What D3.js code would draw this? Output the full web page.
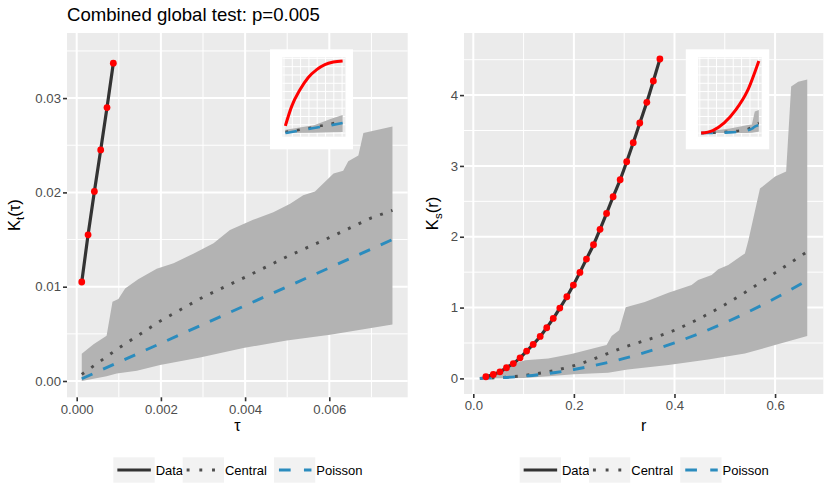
<!DOCTYPE html>
<html>
<head>
<meta charset="utf-8">
<script src="https://cdn.jsdelivr.net/npm/d3@7"></script>
<style>
  body { margin: 0; background: #fff; }
  text { font-family: "Liberation Sans", Arial, Helvetica, sans-serif; }
</style>
</head>
<body>
<svg id="chart" width="830" height="499"></svg>
<script>
// ---- left panel: K_t(tau) ----
const tauObs = [0.00012, 0.00027, 0.00042, 0.00057, 0.00072, 0.00087];
const ktObs = [0.0105, 0.0155, 0.0201, 0.0245, 0.0290, 0.0337];
const tauGrid = [0.00012, 0.001, 0.002, 0.003, 0.004, 0.005, 0.006, 0.007, 0.0075];
const ktCentral = [0.0007, 0.0035, 0.0064, 0.0089, 0.0110, 0.0132, 0.0152, 0.0173, 0.0181];
const ktPoisson = [0.00024, 0.002, 0.004, 0.006, 0.008, 0.010, 0.012, 0.014, 0.015];
const tauEnvHi = [0.00012, 0.0004, 0.00071, 0.00085, 0.00099, 0.00115, 0.00146, 0.0019, 0.0023, 0.00277, 0.00325, 0.00364, 0.00419, 0.00467, 0.00507, 0.00538, 0.00566, 0.0061, 0.00633, 0.00645, 0.00669, 0.00681, 0.0075];
const ktEnvHi = [0.0029, 0.0039, 0.0048, 0.0084, 0.0087, 0.0098, 0.0108, 0.0119, 0.0125, 0.0135, 0.0146, 0.0160, 0.0171, 0.0179, 0.0188, 0.0197, 0.0201, 0.0220, 0.0223, 0.0233, 0.0239, 0.0263, 0.0270];
const tauEnvLo = [0.00012, 0.00071, 0.00095, 0.00143, 0.00198, 0.00293, 0.00396, 0.00499, 0.00602, 0.0075];
const ktEnvLo = [0.0000, 0.0005, 0.0008, 0.0011, 0.0017, 0.0025, 0.0035, 0.0043, 0.0049, 0.0060];
const tauTicks = [0, 0.002, 0.004, 0.006];
const tauTickLabels = ["0.000", "0.002", "0.004", "0.006"];
const ktTicks = [0, 0.01, 0.02, 0.03];
const ktTickLabels = ["0.00", "0.01", "0.02", "0.03"];

// ---- right panel: K_s(r) ----
const rObs = [0.025, 0.0398, 0.053, 0.066, 0.0795, 0.093, 0.106, 0.119, 0.133, 0.146, 0.159, 0.172, 0.186, 0.199, 0.212, 0.225, 0.239, 0.252, 0.265, 0.278, 0.292, 0.305, 0.318, 0.331, 0.345, 0.358, 0.371];
const ksObs = [0.023, 0.056, 0.093, 0.15, 0.21, 0.29, 0.386, 0.48, 0.593, 0.715, 0.847, 0.993, 1.153, 1.318, 1.497, 1.685, 1.887, 2.105, 2.33, 2.565, 2.805, 3.059, 3.328, 3.606, 3.898, 4.199, 4.51];
const rGrid = [0.013, 0.1, 0.2, 0.3, 0.4, 0.5, 0.6, 0.664];
const ksCentral = [0.001, 0.04, 0.18, 0.44, 0.68, 1.04, 1.49, 1.79];
const ksPoisson = [0.0005, 0.031, 0.126, 0.283, 0.503, 0.785, 1.131, 1.385];
const rEnvHi = [0.013, 0.04, 0.066, 0.083, 0.103, 0.149, 0.195, 0.265, 0.275, 0.29, 0.303, 0.341, 0.388, 0.434, 0.447, 0.474, 0.487, 0.507, 0.54, 0.547, 0.57, 0.6, 0.622, 0.632, 0.646, 0.664];
const ksEnvHi = [0.01, 0.04, 0.12, 0.215, 0.258, 0.282, 0.343, 0.47, 0.6, 0.68, 1.003, 1.08, 1.21, 1.32, 1.39, 1.46, 1.54, 1.6, 1.765, 1.95, 2.68, 2.85, 2.92, 4.12, 4.19, 4.22];
const rEnvLo = [0.013, 0.1, 0.15, 0.2, 0.268, 0.307, 0.388, 0.467, 0.54, 0.6, 0.664];
const ksEnvLo = [0, 0.005, 0.03, 0.06, 0.08, 0.127, 0.188, 0.268, 0.353, 0.47, 0.6];
const rTicks = [0, 0.2, 0.4, 0.6];
const rTickLabels = ["0.0", "0.2", "0.4", "0.6"];
const ksTicks = [0, 1, 2, 3, 4];
const ksTickLabels = ["0", "1", "2", "3", "4"];

// ---- insets (unitless, whole range) ----
const inLeftU = [0, 0.11, 0.255, 0.4, 0.547, 0.69, 0.837, 1.0];
const inLeftData = [0.10, 0.37, 0.60, 0.77, 0.88, 0.95, 0.985, 1.0];
const inLeftEnvU = [0, 0.5, 0.8, 1.0];
const inLeftEnvHi = [0.045, 0.11, 0.2, 0.25];
const inLeftEnvLo = [0, 0.006, 0.01, 0.015];
const inLeftCentral = [0.015, 0.08, 0.13, 0.16];
const inLeftPoisson = [0.0, 0.07, 0.11, 0.14];

const inRightU = [0, 0.2, 0.4, 0.6, 0.8, 1.0];
const inRightData = [0, 0.035, 0.14, 0.32, 0.58, 1.0];
const inRightEnvU = [0, 0.5, 0.79, 0.88, 0.93, 1.0];
const inRightEnvHi = [0.01, 0.065, 0.11, 0.12, 0.30, 0.32];
const inRightEnvLo = [0, 0, 0, 0.005, 0.01, 0.02];
const inRightCentral = [0, 0.02, 0.05, 0.09, 0.12, 0.14];
const inRightPoisson = [0, 0.01, 0.035, 0.06, 0.09, 0.11];

const legendLabels = ["Data", "Central", "Poisson"];

const svg = d3.select("#chart");
const zip = (xs, ys) => xs.map((v, i) => [v, ys[i]]);

const COL_BG = "#EBEBEB", COL_ENV = "#B3B3B3", COL_DATA = "#333333",
      COL_PT = "#FF0000", COL_CENTRAL = "#4D4D4D", COL_POIS = "#2B8CBE";
const DOT = "2.9,8.8", DASH = "11.7,11.7";

function drawEnvelope(g, x, y, hi, lo) {
    const pts = hi.concat(lo.slice().reverse());
    g.append("path")
        .attr("d", d3.line().x(d => x(d[0])).y(d => y(d[1]))(pts) + "Z")
        .attr("fill", COL_ENV);
}

function drawLine(g, x, y, pts, color, width, dash, curve) {
    g.append("path")
        .attr("d", d3.line().x(d => x(d[0])).y(d => y(d[1])).curve(curve || d3.curveLinear)(pts))
        .attr("fill", "none")
        .attr("stroke", color)
        .attr("stroke-width", width)
        .attr("stroke-dasharray", dash || null);
}

function drawPanel(cfg) {
    const g = svg.append("g");
    const x = d3.scaleLinear().domain(cfg.xDomain).range([cfg.left, cfg.right]);
    const y = d3.scaleLinear().domain(cfg.yDomain).range([cfg.bottom, cfg.top]);

    g.append("rect")
        .attr("x", cfg.left).attr("y", cfg.top)
        .attr("width", cfg.right - cfg.left).attr("height", cfg.bottom - cfg.top)
        .attr("fill", COL_BG);

    // grid: minor halfway between majors
    const xStep = cfg.xTicks[1] - cfg.xTicks[0];
    const yStep = cfg.yTicks[1] - cfg.yTicks[0];
    const xMinor = d3.range(cfg.xTicks[0] - xStep / 2, cfg.xDomain[1], xStep).filter(v => v > cfg.xDomain[0]);
    const yMinor = d3.range(cfg.yTicks[0] - yStep / 2, cfg.yDomain[1], yStep).filter(v => v > cfg.yDomain[0]);
    const grid = g.append("g").attr("stroke", "#fff");
    xMinor.forEach(v => grid.append("line").attr("x1", x(v)).attr("x2", x(v))
        .attr("y1", cfg.top).attr("y2", cfg.bottom).attr("stroke-width", 1));
    yMinor.forEach(v => grid.append("line").attr("y1", y(v)).attr("y2", y(v))
        .attr("x1", cfg.left).attr("x2", cfg.right).attr("stroke-width", 1));
    cfg.xTicks.forEach(v => grid.append("line").attr("x1", x(v)).attr("x2", x(v))
        .attr("y1", cfg.top).attr("y2", cfg.bottom).attr("stroke-width", 2));
    cfg.yTicks.forEach(v => grid.append("line").attr("y1", y(v)).attr("y2", y(v))
        .attr("x1", cfg.left).attr("x2", cfg.right).attr("stroke-width", 2));

    drawEnvelope(g, x, y, cfg.envHi, cfg.envLo);
    drawLine(g, x, y, cfg.central, COL_CENTRAL, 2.9, DOT, cfg.curve);
    drawLine(g, x, y, cfg.poisson, COL_POIS, 2.9, DASH, cfg.curve);
    drawLine(g, x, y, cfg.obs, COL_DATA, 3.2, null, cfg.curve);

    g.selectAll("circle.pt")
        .data(cfg.obs)
        .enter()
        .append("circle")
        .attr("class", "pt")
        .attr("cx", d => x(d[0]))
        .attr("cy", d => y(d[1]))
        .attr("r", 3.4)
        .attr("fill", COL_PT);

    // axes
    const xAxis = g.append("g")
        .attr("transform", `translate(0,${cfg.bottom})`)
        .call(d3.axisBottom(x).tickValues(cfg.xTicks).tickFormat((d, i) => cfg.xLabels[i])
            .tickSizeInner(4).tickSizeOuter(0).tickPadding(3));
    const yAxis = g.append("g")
        .attr("transform", `translate(${cfg.left},0)`)
        .call(d3.axisLeft(y).tickValues(cfg.yTicks).tickFormat((d, i) => cfg.yLabels[i])
            .tickSizeInner(4).tickSizeOuter(0).tickPadding(2));
    [xAxis, yAxis].forEach(a => {
        a.select(".domain").remove();
        a.selectAll(".tick line").attr("stroke", "#333333").attr("stroke-width", 1.6);
        a.selectAll(".tick text").attr("fill", "#4D4D4D")
            .style("font-size", "13.2px")
            .style("font-family", '"Liberation Sans", Arial, sans-serif');
    });

    // axis titles
    g.append("text")
        .attr("x", (cfg.left + cfg.right) / 2)
        .attr("y", 431)
        .attr("text-anchor", "middle")
        .style("font-size", "16px")
        .text(cfg.xTitle);

    const yt = g.append("text")
        .attr("transform", `translate(${cfg.yTitleX},${(cfg.top + cfg.bottom) / 2}) rotate(-90)`)
        .attr("text-anchor", "middle")
        .style("font-size", "16.5px");
    yt.append("tspan").text("K");
    yt.append("tspan").attr("dy", 4).style("font-size", "11.5px").text(cfg.ySub);
    yt.append("tspan").attr("dy", -4).text("(" + cfg.yArg + ")");

    drawInset(cfg.inset);
    drawLegend((cfg.left + cfg.right) / 2, 470);
}

function drawInset(c) {
    const g = svg.append("g");
    g.append("rect").attr("x", c.left - 12.5).attr("y", c.top - 8)
        .attr("width", c.width + 20).attr("height", c.height + 20.6).attr("fill", "#fff");
    g.append("rect").attr("x", c.left).attr("y", c.top)
        .attr("width", c.width).attr("height", c.height).attr("fill", COL_BG);
    const x = d3.scaleLinear().domain([-0.05, 1.05]).range([c.left, c.left + c.width]);
    const y = d3.scaleLinear().domain([-0.05, 1.05]).range([c.top + c.height, c.top]);
    const grid = g.append("g").attr("stroke", "#fff").attr("stroke-width", 1);
    d3.range(-0.024, 1.0, 0.145).forEach(v => grid.append("line")
        .attr("x1", x(v)).attr("x2", x(v)).attr("y1", c.top).attr("y2", c.top + c.height));
    d3.range(0, 1.06, 0.115).forEach(v => grid.append("line")
        .attr("y1", y(v)).attr("y2", y(v)).attr("x1", c.left).attr("x2", c.left + c.width));

    drawEnvelope(g, x, y, zip(c.envU, c.envHi), zip(c.envU, c.envLo));
    drawLine(g, x, y, zip(c.envU, c.central), COL_CENTRAL, 2.6, DOT, d3.curveMonotoneX);
    drawLine(g, x, y, zip(c.envU, c.poisson), COL_POIS, 2.6, DASH, d3.curveMonotoneX);
    drawLine(g, x, y, zip(c.u, c.data), COL_PT, 3, null, d3.curveMonotoneX);
}

function drawLegend(cx, cy) {
    const g = svg.append("g");
    const total = 248;
    const x0 = cx - total / 2;
    const keyX = [0, 69.3, 160.6];
    const keyW = 41.3, keyH = 25.4;
    legendLabels.forEach((lab, i) => {
        const kx = x0 + keyX[i];
        g.append("rect").attr("x", kx).attr("y", cy - keyH / 2)
            .attr("width", keyW).attr("height", keyH).attr("fill", "#F2F2F2");
        const ln = g.append("line").attr("x1", kx + 4).attr("x2", kx + 37.5)
            .attr("y1", cy).attr("y2", cy).attr("stroke-width", 2.9);
        if (i === 0) ln.attr("stroke", COL_DATA);
        if (i === 1) ln.attr("stroke", COL_CENTRAL).attr("stroke-dasharray", "2.9,9.8");
        if (i === 2) ln.attr("x1", kx + 5).attr("stroke", COL_POIS).attr("stroke-dasharray", "11.7,13.3");
        g.append("text").attr("x", kx + keyW + 1).attr("y", cy + 4.6)
            .style("font-size", "13px").attr("fill", "#000").text(lab);
    });
}

// title
svg.append("text").attr("x", 67).attr("y", 20.5)
    .style("font-size", "18.6px").text("Combined global test: p=0.005");

drawPanel({
    left: 67, right: 407.7, top: 33, bottom: 397.3,
    xDomain: [-0.0002304, 0.007862], yDomain: [-0.001728, 0.036903],
    xTicks: tauTicks, xLabels: tauTickLabels, yTicks: ktTicks, yLabels: ktTickLabels,
    obs: zip(tauObs, ktObs),
    central: zip(tauGrid, ktCentral),
    poisson: zip(tauGrid, ktPoisson),
    envHi: zip(tauEnvHi, ktEnvHi), envLo: zip(tauEnvLo, ktEnvLo),
    xTitle: "τ", ySub: "t", yArg: "τ", yTitleX: 20,
    inset: { left: 282.5, top: 57.3, width: 63, height: 79.4,
        u: inLeftU, data: inLeftData, envU: inLeftEnvU, envHi: inLeftEnvHi, envLo: inLeftEnvLo,
        central: inLeftCentral, poisson: inLeftPoisson }
});

drawPanel({
    left: 464, right: 823.3, top: 33, bottom: 394,
    xDomain: [-0.01849, 0.6959], yDomain: [-0.2203, 4.877],
    xTicks: rTicks, xLabels: rTickLabels, yTicks: ksTicks, yLabels: ksTickLabels,
    obs: zip(rObs, ksObs),
    central: zip(rGrid, ksCentral),
    poisson: zip(rGrid, ksPoisson),
    envHi: zip(rEnvHi, ksEnvHi), envLo: zip(rEnvLo, ksEnvLo),
    curve: d3.curveMonotoneX,
    xTitle: "r", ySub: "s", yArg: "r", yTitleX: 437.5,
    inset: { left: 698.3, top: 57.3, width: 63.4, height: 79.4,
        u: inRightU, data: inRightData, envU: inRightEnvU, envHi: inRightEnvHi, envLo: inRightEnvLo,
        central: inRightCentral, poisson: inRightPoisson }
});
</script>
</body>
</html>
